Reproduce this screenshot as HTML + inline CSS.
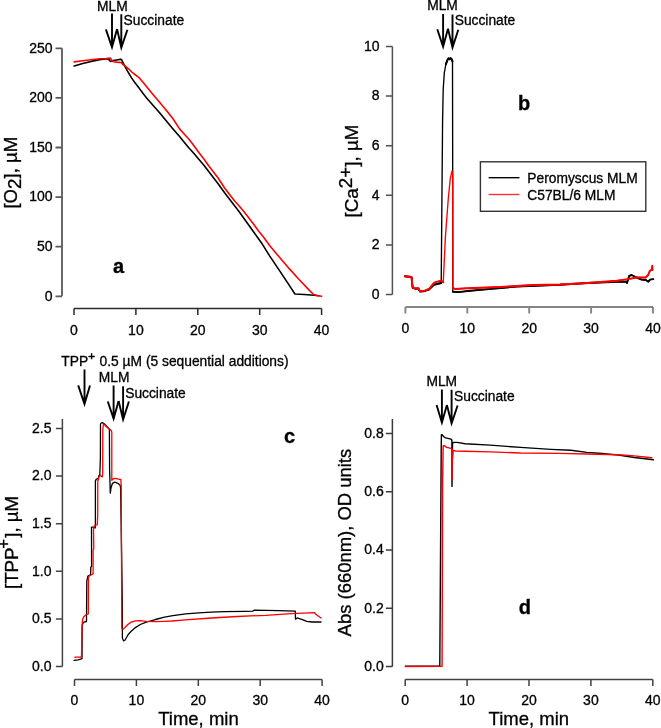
<!DOCTYPE html>
<html><head><meta charset="utf-8"><title>Figure</title>
<style>
html,body{margin:0;padding:0;background:#fff;}
svg{display:block;}
svg text{font-family:'Liberation Sans', sans-serif;fill:#000;stroke:#000;stroke-width:0.3px;}
</style></head>
<body>
<svg width="661" height="728" viewBox="0 0 661 728">
<rect width="661" height="728" fill="#fff"/>
<path d="M62,48.3 V296.3 M55.5,296.3 H62 M55.5,246.7 H62 M55.5,197.1 H62 M55.5,147.5 H62 M55.5,97.9 H62 M55.5,48.3 H62" stroke="#5a5a5a" stroke-width="1.8" fill="none"/>
<text x="52.6" y="300.6" font-size="14" text-anchor="end">0</text>
<text x="52.6" y="251" font-size="14" text-anchor="end">50</text>
<text x="52.6" y="201.4" font-size="14" text-anchor="end">100</text>
<text x="52.6" y="151.8" font-size="14" text-anchor="end">150</text>
<text x="52.6" y="102.2" font-size="14" text-anchor="end">200</text>
<text x="52.6" y="52.6" font-size="14" text-anchor="end">250</text>
<path d="M74,308.6 H321.6 M74,308.6 V315.1 M135.9,308.6 V315.1 M197.8,308.6 V315.1 M259.7,308.6 V315.1 M321.6,308.6 V315.1" stroke="#2a2a2a" stroke-width="1.5" fill="none"/>
<text x="74" y="334.5" font-size="14" text-anchor="middle">0</text>
<text x="135.9" y="334.5" font-size="14" text-anchor="middle">10</text>
<text x="197.8" y="334.5" font-size="14" text-anchor="middle">20</text>
<text x="259.7" y="334.5" font-size="14" text-anchor="middle">30</text>
<text x="321.6" y="334.5" font-size="14" text-anchor="middle">40</text>
<path d="M392.4,46.5 V294.5 M385.9,294.5 H392.4 M385.9,244.9 H392.4 M385.9,195.3 H392.4 M385.9,145.7 H392.4 M385.9,96.1 H392.4 M385.9,46.5 H392.4" stroke="#505050" stroke-width="1.5" fill="none"/>
<text x="379.6" y="298.8" font-size="14" text-anchor="end">0</text>
<text x="379.6" y="249.2" font-size="14" text-anchor="end">2</text>
<text x="379.6" y="199.6" font-size="14" text-anchor="end">4</text>
<text x="379.6" y="150" font-size="14" text-anchor="end">6</text>
<text x="379.6" y="100.4" font-size="14" text-anchor="end">8</text>
<text x="379.6" y="50.8" font-size="14" text-anchor="end">10</text>
<path d="M405.4,307 H653 M405.4,307 V313.5 M467.3,307 V313.5 M529.2,307 V313.5 M591.1,307 V313.5 M653,307 V313.5" stroke="#858585" stroke-width="1.9" fill="none"/>
<text x="405.4" y="332.7" font-size="14" text-anchor="middle">0</text>
<text x="467.3" y="332.7" font-size="14" text-anchor="middle">10</text>
<text x="529.2" y="332.7" font-size="14" text-anchor="middle">20</text>
<text x="591.1" y="332.7" font-size="14" text-anchor="middle">30</text>
<text x="653" y="332.7" font-size="14" text-anchor="middle">40</text>
<path d="M62.4,419 V666.5 M55.9,666.5 H62.4 M55.9,618.88 H62.4 M55.9,571.26 H62.4 M55.9,523.64 H62.4 M55.9,476.02 H62.4 M55.9,428.4 H62.4" stroke="#444" stroke-width="1.5" fill="none"/>
<text x="51.5" y="670.8" font-size="14" text-anchor="end">0.0</text>
<text x="51.5" y="623.18" font-size="14" text-anchor="end">0.5</text>
<text x="51.5" y="575.56" font-size="14" text-anchor="end">1.0</text>
<text x="51.5" y="527.94" font-size="14" text-anchor="end">1.5</text>
<text x="51.5" y="480.32" font-size="14" text-anchor="end">2.0</text>
<text x="51.5" y="432.7" font-size="14" text-anchor="end">2.5</text>
<path d="M74.5,679.5 H322.1 M74.5,679.5 V686 M136.4,679.5 V686 M198.3,679.5 V686 M260.2,679.5 V686 M322.1,679.5 V686" stroke="#404040" stroke-width="1.5" fill="none"/>
<text x="74.5" y="705.4" font-size="14" text-anchor="middle">0</text>
<text x="136.4" y="705.4" font-size="14" text-anchor="middle">10</text>
<text x="198.3" y="705.4" font-size="14" text-anchor="middle">20</text>
<text x="260.2" y="705.4" font-size="14" text-anchor="middle">30</text>
<text x="322.1" y="705.4" font-size="14" text-anchor="middle">40</text>
<path d="M392.4,419.1 V666.5 M385.9,666.5 H392.4 M385.9,608.22 H392.4 M385.9,549.94 H392.4 M385.9,491.66 H392.4 M385.9,433.38 H392.4" stroke="#3a3a3a" stroke-width="1.5" fill="none"/>
<text x="383.8" y="670.8" font-size="14" text-anchor="end">0.0</text>
<text x="383.8" y="612.52" font-size="14" text-anchor="end">0.2</text>
<text x="383.8" y="554.24" font-size="14" text-anchor="end">0.4</text>
<text x="383.8" y="495.96" font-size="14" text-anchor="end">0.6</text>
<text x="383.8" y="437.68" font-size="14" text-anchor="end">0.8</text>
<path d="M405.2,679.5 H652.8 M405.2,679.5 V686 M467.1,679.5 V686 M529,679.5 V686 M590.9,679.5 V686 M652.8,679.5 V686" stroke="#404040" stroke-width="1.5" fill="none"/>
<text x="405.2" y="705.4" font-size="14" text-anchor="middle">0</text>
<text x="467.1" y="705.4" font-size="14" text-anchor="middle">10</text>
<text x="529" y="705.4" font-size="14" text-anchor="middle">20</text>
<text x="590.9" y="705.4" font-size="14" text-anchor="middle">30</text>
<text x="652.8" y="705.4" font-size="14" text-anchor="middle">40</text>
<text transform="translate(16.8,208.6) rotate(-90) scale(1.038,1)" font-size="18">[O<tspan dy="4.5">2</tspan><tspan dy="-4.5">], µM</tspan></text>
<text transform="translate(358.1,217.5) rotate(-90) scale(1.046,1)" font-size="18">[Ca<tspan dy="-6">2+</tspan><tspan dy="6">], µM</tspan></text>
<text transform="translate(17.6,589) rotate(-90) scale(1.039,1)" font-size="18">[TPP<tspan dx="-1.2" dy="-8.3" font-size="16">+</tspan><tspan dx="1.2" dy="8.3">], µM</tspan></text>
<text transform="translate(350.6,636.4) rotate(-90) scale(1.025,1)" font-size="18">Abs (660nm), OD units</text>
<text x="158.2" y="725" font-size="18.5">Time, min</text>
<text x="488.6" y="725" font-size="18.5">Time, min</text>
<text x="113" y="272.7" font-size="20" text-anchor="start" font-weight="bold">a</text>
<text x="518" y="109.5" font-size="20" text-anchor="start" font-weight="bold">b</text>
<text x="284" y="443" font-size="20" text-anchor="start" font-weight="bold">c</text>
<text x="518.8" y="613.5" font-size="20" text-anchor="start" font-weight="bold">d</text>
<text x="97" y="10.6" font-size="13.8" text-anchor="start">MLM</text>
<text x="123.6" y="25.1" font-size="13.8" text-anchor="start">Succinate</text>
<path d="M112,13.6 V47.2 M105.9,29.4 L112,47.2 L117.1,29.1" stroke="#000" stroke-width="1.9" fill="none" stroke-linejoin="miter" stroke-miterlimit="10" stroke-linecap="butt"/>
<path d="M121.3,14.2 V47.7 M117.1,29.1 L121.3,47.7 L127.4,29.7" stroke="#000" stroke-width="1.9" fill="none" stroke-linejoin="miter" stroke-miterlimit="10" stroke-linecap="butt"/>
<text x="427.2" y="10.3" font-size="13.8" text-anchor="start">MLM</text>
<text x="454.7" y="25.1" font-size="13.8" text-anchor="start">Succinate</text>
<path d="M443.1,14 V46.8 M437.3,29.2 L443.1,46.8 L448,28.8" stroke="#000" stroke-width="1.9" fill="none" stroke-linejoin="miter" stroke-miterlimit="10" stroke-linecap="butt"/>
<path d="M452.5,14.4 V47.6 M448,28.8 L452.5,47.6 L458.3,29.7" stroke="#000" stroke-width="1.9" fill="none" stroke-linejoin="miter" stroke-miterlimit="10" stroke-linecap="butt"/>
<text x="61.3" y="365.7" font-size="13.8">TPP<tspan dy="-6" font-size="11.5" style="stroke-width:0.6px">+</tspan><tspan x="99.6" dy="6">0.5 µM (5 sequential additions)</tspan></text>
<path d="M84.5,369.5 V404 M78.2,385.4 L84.5,404 L90,385.4" stroke="#000" stroke-width="1.9" fill="none" stroke-linejoin="miter" stroke-miterlimit="10" stroke-linecap="butt"/>
<text x="98.8" y="382.2" font-size="13.8" text-anchor="start">MLM</text>
<text x="125.2" y="397.5" font-size="13.8" text-anchor="start">Succinate</text>
<path d="M113.6,385.4 V418.7 M107.8,401.5 L113.6,418.7 L118.6,401" stroke="#000" stroke-width="1.9" fill="none" stroke-linejoin="miter" stroke-miterlimit="10" stroke-linecap="butt"/>
<path d="M123.1,386.2 V419.5 M118.6,401 L123.1,419.5 L128.9,401.5" stroke="#000" stroke-width="1.9" fill="none" stroke-linejoin="miter" stroke-miterlimit="10" stroke-linecap="butt"/>
<text x="426.4" y="385.7" font-size="13.8" text-anchor="start">MLM</text>
<text x="454" y="401" font-size="13.8" text-anchor="start">Succinate</text>
<path d="M441.9,389.4 V422.7 M436.6,405.1 L441.9,422.7 L446.9,405.1" stroke="#000" stroke-width="1.9" fill="none" stroke-linejoin="miter" stroke-miterlimit="10" stroke-linecap="butt"/>
<path d="M451.6,389.8 V423.5 M446.9,405.1 L451.6,423.5 L457.6,405.5" stroke="#000" stroke-width="1.9" fill="none" stroke-linejoin="miter" stroke-miterlimit="10" stroke-linecap="butt"/>
<rect x="480.4" y="161.8" width="165.4" height="49.5" fill="none" stroke="#333" stroke-width="1.4"/>
<path d="M488.6,177.7 H519.5" stroke="#000" stroke-width="1.35"/>
<path d="M488.6,194.5 H519.5" stroke="#ff2a2a" stroke-width="1.35"/>
<text x="527.3" y="182.5" font-size="13.8" text-anchor="start">Peromyscus MLM</text>
<text x="527.3" y="199.5" font-size="13.8" text-anchor="start">C57BL/6 MLM</text>
<polyline points="74.2,66.1 82.7,63.6 91.2,61.4 99.7,59.7 107.3,58.6 109,58.9 109.4,60.6 110.7,61.4 112.8,60.6 116.6,60 120.8,59.3 121.5,59.5 123.1,62.8 125.3,67.2 128.1,72.1 131.4,77.6 135.2,83.1 139.1,88.1 142.9,93.3 146.6,97.9 153.2,105.5 159.8,113 166.4,121 173,128.9 179.6,136.6 184.4,142.4 189.2,148.2 194,153.5 198.8,159.2 203.7,165 208.5,171.3 213.3,177.5 218.1,183.8 224.6,192.8 229.4,199 234.2,205.3 239,211.5 243.8,218.3 248.7,225 253.5,231.7 258.3,238.5 262.1,243.8 269.8,256.1 279.7,270.9 289.5,285.6 294.9,294 304.2,294.5 314.1,295.2 319,295.8" fill="none" stroke="#000" stroke-width="1.6" stroke-linejoin="round" stroke-linecap="round"/>
<polyline points="74.2,61.9 82.7,60.8 91.2,59.7 99.7,58.7 107.3,58.5 110.3,58 110.7,58.5 111.5,60.6 113.2,61.7 116.6,62.1 120.4,62.4 121.5,62.8 123.1,64.7 125.3,66.1 128.6,68.8 132.5,72.7 136.9,76 139.6,78.2 142.4,81.5 145.1,84.8 147.9,88.3 153.2,94.8 159.8,102.6 166.4,110.4 173,118.8 179.6,128.9 184.4,134.2 189.2,139.5 194,145.8 198.8,152.5 203.7,158.8 208.5,165.5 213.3,171.7 218.1,178 224.6,188 229.4,194.2 234.2,200.5 239,205.8 243.8,211.5 248.7,217.8 253.5,224 258.3,230.8 263.1,236.5 269.8,245.8 279.7,257.6 289.5,268.9 299.3,279.7 309.2,290.1 313.6,294.5 317,295.5 321.5,296.3" fill="none" stroke="#ff0000" stroke-width="1.6" stroke-linejoin="round" stroke-linecap="round"/>
<polyline points="404.8,276.3 411.5,277 412.7,287.8 415.7,288.8 418.2,288.4 420,291.5 424.2,291.2 429,289.5 433.9,284.8 437,284 441.2,283 442.6,120 443.2,89.5 444.3,73 445.9,64.2 447.6,59.6 448.5,58.4 449.5,59.3 450.4,58.2 451.5,59 452.5,61.4 452.7,175 452.8,291.7 458.3,292.1 470,290.8 483.3,289.6 516.6,286.6 560,284.8 583.3,283.3 616.6,281.7 626.6,281.7 627,283 629.2,275.8 631.6,275 636.6,277.5 641.6,279.6 645.8,280 648.3,281.7 650,279.6 653.3,279.1" fill="none" stroke="#000" stroke-width="1.35" stroke-linejoin="round" stroke-linecap="round"/>
<polyline points="404.8,276.3 411.5,277 412.7,287.8 415.7,288.8 418.2,288.4 420,291.5 424.2,291.2 429,289.5 433.9,284.8 437,284 441.2,283" fill="none" stroke="#000" stroke-width="1.9" stroke-linejoin="round" stroke-linecap="round"/>
<polyline points="452.8,291.7 458.3,292.1 470,290.8 483.3,289.6 516.6,286.6 560,284.8 583.3,283.3 616.6,281.7 626.6,281.7 627,283 629.2,275.8 631.6,275 636.6,277.5 641.6,279.6 645.8,280 648.3,281.7 650,279.6 653.3,279.1" fill="none" stroke="#000" stroke-width="1.9" stroke-linejoin="round" stroke-linecap="round"/>
<polyline points="445.9,64.2 447.6,59.6 448.5,58.4 449.5,59.3 450.4,58.2 451.5,59 452.5,61.4" fill="none" stroke="#000" stroke-width="2.1" stroke-linejoin="round" stroke-linecap="round"/>
<polyline points="404.8,276.3 411.5,277 412.7,287.8 415.7,288.5 418.2,288.1 420,291.2 424.2,290.9 429,289 433.9,283 436.3,281.8 440.5,280.8 442.3,281.5 443.3,282.3 443.6,275 445.4,236.9 448.3,198.5 450.2,179.2 452.1,170.6 452.7,175 452.9,287.9 455,289 466.6,288.3 500,287 533.2,285 560,284.5 583.3,283.3 616.6,280.8 628.2,279.1 636.5,277.5 645.7,277.5 648.2,275 649.8,270.8 651.8,269.7 652.3,265.8 652.5,270" fill="none" stroke="#ff0000" stroke-width="1.35" stroke-linejoin="round" stroke-linecap="round"/>
<polyline points="404.8,276.3 411.5,277 412.7,287.8 415.7,288.5 418.2,288.1 420,291.2 424.2,290.9 429,289 433.9,283 436.3,281.8 440.5,280.8 442.3,281.5 443.3,282.3" fill="none" stroke="#ff0000" stroke-width="1.9" stroke-linejoin="round" stroke-linecap="round"/>
<polyline points="452.9,287.9 455,289 466.6,288.3 500,287 533.2,285 560,284.5 583.3,283.3 616.6,280.8 628.2,279.1 636.5,277.5 645.7,277.5 648.2,275 649.8,270.8 651.8,269.7 652.3,265.8 652.5,270" fill="none" stroke="#ff0000" stroke-width="1.9" stroke-linejoin="round" stroke-linecap="round"/>
<polyline points="74.1,660.4 78.2,659.8 82,658.6 82.2,625 83.7,622.2 86.5,621.5 86.8,581 87.9,576.2 90.6,574.8 90.8,567.1 91.6,566.3 91.5,527.1 93.2,527.1 94.3,527.8 95.4,527.8 95.4,481 96.3,479.1 98.2,478.7 98.9,475.7 99.8,475 100.4,457.6 100.5,424.1 101.2,423 102.4,422.6 104.2,423.8 109.4,429.2 109.6,470 110.3,493.1 111,487.8 112.5,483.3 114.8,482.1 117.8,483.3 120.1,485.2 120.6,488 122.3,600 122.4,638.2 123.6,640.9 125.1,640 128.2,634.5 131.2,631.2 135.4,627.6 140.3,624.5 146.3,622.1 155.4,619.5 164.5,617.2 172.9,615.7 185.7,613.9 198.6,612.9 211.4,612.2 224.3,611.6 245,611.3 252.9,611.1 254.1,610.2 265.7,610.4 278.6,610.7 295.3,611.1 295.5,619.2 297.2,617.9 301.7,619.4 306.8,621.3 312,622 321,622" fill="none" stroke="#000" stroke-width="1.3" stroke-linejoin="round" stroke-linecap="round"/>
<polyline points="74.8,657.2 80.3,657.2 81.5,656.5 82.1,625 82.6,619.5 83.7,616.7 86.5,614.6 88.3,614 88.5,576.9 89.9,575.5 93.1,573.9 93.1,549.7 93.8,548.9 93.5,529.3 93.9,527.1 95,525.2 97.3,524.8 97.7,515 97.8,480.3 98.5,479.9 98.9,476.9 100,475.7 101.2,476.1 102.3,476.9 102.7,472.7 102.8,430.1 103.3,425 103.6,424.1 108.2,428.3 110.9,430.1 111.8,432 111.8,480.3 113.3,478.7 115.6,478.4 118.6,479.1 120.8,479.5 121.2,485 121.8,628.6 123.3,629.1 125.7,626.7 128.2,624.2 131.2,622.1 135.4,620.9 140.3,620.6 146.3,621.3 155.4,621.7 164.5,621.3 172,621 185.7,619.9 211.4,618 237.1,616.5 265.7,615.3 291.4,613.6 314.5,612.7 315.8,614.3 321,618.1" fill="none" stroke="#ff0000" stroke-width="1.3" stroke-linejoin="round" stroke-linecap="round"/>
<polyline points="405.4,666.3 439.8,666 441.2,449.9 441.4,434.8 441.8,434.5 443.6,436.5 445.6,437.9 449.1,438.6 451.5,439.3 451.9,441 452,486.4 452.3,470 452.5,443.1 453.9,442.4 457.3,442.4 465,443.7 490.3,445.1 520.5,447.4 550.8,449.4 570.9,450.3 586.8,452.4 602.6,453.5 618.5,455.1 634.4,457.5 653.4,459.8" fill="none" stroke="#000" stroke-width="1.4" stroke-linejoin="round" stroke-linecap="round"/>
<polyline points="405.4,666.5 442.1,666.3 442.6,480 443.2,445.8 444.2,445.5 446.3,447.2 449.1,447.9 451.5,448.6 452.1,449.5 452.1,480.2 452.3,460 453.2,450.6 455.9,451 465,451.3 490.3,451.9 520.5,453 560,453.4 586.8,454 618.5,454.8 634.4,455.9 651.8,457.8" fill="none" stroke="#ff0000" stroke-width="1.4" stroke-linejoin="round" stroke-linecap="round"/>
</svg>
</body></html>
